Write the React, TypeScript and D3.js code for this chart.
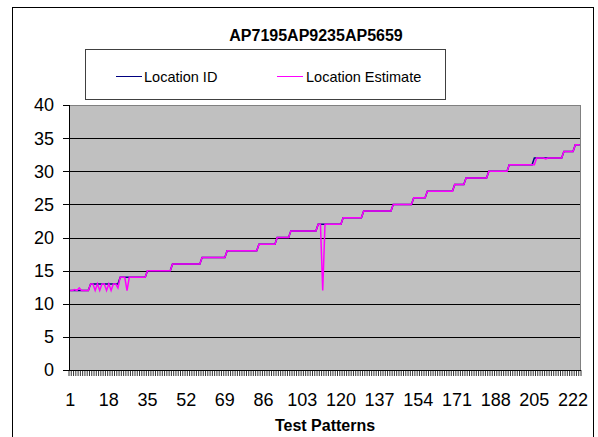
import React from "react";
import * as d3 from "d3";

const title = "AP7195AP9235AP5659";
const xTitle = "Test Patterns";
const seriesNames = ["Location ID", "Location Estimate"];
const seriesColors = ["#000080", "#FF00FF"];

const locationId = [
  12, 12, 12, 12, 12, 12, 12, 12, 12,
  13, 13, 13, 13, 13, 13, 13, 13, 13, 13, 13, 13, 13,
  14, 14, 14, 14, 14, 14, 14, 14, 14, 14, 14, 14,
  15, 15, 15, 15, 15, 15, 15, 15, 15, 15, 15,
  16, 16, 16, 16, 16, 16, 16, 16, 16, 16, 16, 16, 16,
  17, 17, 17, 17, 17, 17, 17, 17, 17, 17, 17,
  18, 18, 18, 18, 18, 18, 18, 18, 18, 18, 18, 18, 18, 18,
  19, 19, 19, 19, 19, 19, 19, 19,
  20, 20, 20, 20, 20, 20,
  21, 21, 21, 21, 21, 21, 21, 21, 21, 21, 21, 21,
  22, 22, 22, 22, 22, 22, 22, 22, 22, 22, 22,
  23, 23, 23, 23, 23, 23, 23, 23, 23,
  24, 24, 24, 24, 24, 24, 24, 24, 24, 24, 24, 24, 24,
  25, 25, 25, 25, 25, 25, 25, 25, 25,
  26, 26, 26, 26, 26, 26,
  27, 27, 27, 27, 27, 27, 27, 27, 27, 27, 27, 27,
  28, 28, 28, 28, 28,
  29, 29, 29, 29, 29, 29, 29, 29, 29, 29,
  30, 30, 30, 30, 30, 30, 30, 30, 30,
  31, 31, 31, 31, 31, 31, 31, 31, 31, 31, 31,
  32, 32, 32, 32, 32, 32, 32, 32, 32, 32, 32, 32, 32,
  33, 33, 33, 33, 33,
  34, 34, 34,
];

const locationEstimate = [
  12, 12, 12.15, 12, 12.4, 12, 12, 12, 12,
  13, 13, 12, 13, 12, 13, 13, 12, 13, 12, 13, 13, 12.4,
  14, 14, 14, 12, 14, 14, 14, 14, 14, 14, 14, 14,
  15, 15, 15, 15, 15, 15, 15, 15, 15, 15, 15,
  16, 16, 16, 16, 16, 16, 16, 16, 16, 16, 16, 16, 16,
  17, 17, 17, 17, 17, 17, 17, 17, 17, 17, 17,
  18, 18, 18, 18, 18, 18, 18, 18, 18, 18, 18, 18, 18, 18,
  19, 19, 19, 19, 19, 19, 19, 19,
  20, 20, 20, 20, 20, 20,
  21, 21, 21, 21, 21, 21, 21, 21, 21, 21, 21, 21,
  22, 22, 12, 22, 22, 22, 22, 22, 22, 22, 22,
  23, 23, 23, 23, 23, 23, 23, 23, 23,
  24, 24, 24, 24, 24, 24, 24, 24, 24, 24, 24, 24, 24,
  25, 25, 25, 25, 25, 25, 25, 25, 25,
  26, 26, 26, 26, 26, 26,
  27, 27, 27, 27, 27, 27, 27, 27, 27, 27, 27, 27,
  28, 28, 28, 28, 28,
  29, 29, 29, 29, 29, 29, 29, 29, 29, 29,
  30, 30, 30, 30, 30, 30, 30, 30, 30,
  31, 31, 31, 31, 31, 31, 31, 31, 31, 31, 31,
  31, 32, 32, 32, 32, 31.85, 32, 32, 32, 32, 32, 32, 32,
  33, 33, 33, 33, 33,
  34, 34, 34,
];

const xTickLabels = [1, 18, 35, 52, 69, 86, 103, 120, 137, 154, 171, 188, 205, 222];
const yTicks = [0, 5, 10, 15, 20, 25, 30, 35, 40];

const W = 598;
const H = 437;
const FONT = "'Liberation Sans', Arial, sans-serif";

export default function App() {
  const categories = locationId.map((_, i) => i + 1);
  const x = d3.scaleBand<number>().domain(categories).range([69, 581]).paddingInner(0).paddingOuter(0);
  const y = d3.scaleLinear().domain([0, 40]).range([370, 105]);
  const cx = (c: number) => (x(c) as number) + x.bandwidth() / 2;

  const line = d3
    .line<number>()
    .x((_, i) => cx(categories[i]))
    .y((d) => y(d));

  const [x0, x1] = x.range();
  const boundaries = categories.map((c) => x(c) as number).concat([x1]);

  return (
    <svg
      width={W}
      height={H}
      style={{ position: "absolute", left: 0, top: 0, background: "#fff" }}
      fontFamily={FONT}
    >
      <rect x={0} y={0} width={W} height={H} fill="#fff" />
      <rect x={12.5} y={7.5} width={581} height={440} fill="none" stroke="#000" strokeWidth={1} />

      <text x={316} y={40.5} textAnchor="middle" fontSize={16} fontWeight="bold" fill="#000">
        {title}
      </text>

      {/* legend */}
      <rect x={85.5} y={49.5} width={360} height={50} fill="#fff" stroke="#404040" strokeWidth={1} />
      <line x1={116} x2={142} y1={76.5} y2={76.5} stroke={seriesColors[0]} strokeWidth={1} />
      <text x={144} y={82} fontSize={14.5} fill="#000">{seriesNames[0]}</text>
      <line x1={277} x2={303} y1={76.5} y2={76.5} stroke={seriesColors[1]} strokeWidth={1} />
      <text x={306} y={82} fontSize={14.5} fill="#000">{seriesNames[1]}</text>

      {/* plot area */}
      <rect x={x0} y={y(40)} width={x1 - x0} height={y(0) - y(40)} fill="#C0C0C0" />
      {yTicks
        .filter((t) => t > 0 && t < 40)
        .map((t) => (
          <line key={t} x1={x0} x2={x1} y1={Math.round(y(t)) + 0.5} y2={Math.round(y(t)) + 0.5} stroke="#000" strokeWidth={1} />
        ))}
      <line x1={x0} x2={x1} y1={Math.round(y(40)) + 0.5} y2={Math.round(y(40)) + 0.5} stroke="#808080" strokeWidth={1} />
      <line x1={x1 - 0.5} x2={x1 - 0.5} y1={y(40)} y2={y(0)} stroke="#808080" strokeWidth={1} />

      {/* series */}
      <path d={line(locationId) || ""} fill="none" stroke={seriesColors[0]} strokeWidth={1.5} />
      <path d={line(locationEstimate) || ""} fill="none" stroke={seriesColors[1]} strokeWidth={1.5} />

      {/* y axis */}
      <line x1={x0 + 0.5} x2={x0 + 0.5} y1={y(40)} y2={y(0)} stroke="#000" strokeWidth={1} />
      {yTicks.map((t) => (
        <g key={t}>
          <line x1={63} x2={x0} y1={Math.round(y(t)) + 0.5} y2={Math.round(y(t)) + 0.5} stroke="#000" strokeWidth={1} />
          <text x={54} y={y(t)} dy="0.36em" textAnchor="end" fontSize={18} fill="#000">
            {t}
          </text>
        </g>
      ))}

      {/* x axis */}
      <line x1={x0} x2={x1} y1={Math.round(y(0)) + 0.5} y2={Math.round(y(0)) + 0.5} stroke="#000" strokeWidth={1} />
      {boundaries.map((b, i) => (
        <line key={i} x1={b} x2={b} y1={y(0)} y2={y(0) + 6} stroke="#000" strokeWidth={0.8} />
      ))}
      {xTickLabels.map((c) => (
        <text key={c} x={cx(c)} y={406} textAnchor="middle" fontSize={18} fill="#000">
          {c}
        </text>
      ))}
      <text x={(x0 + x1) / 2} y={431} textAnchor="middle" fontSize={16} fontWeight="bold" fill="#000">
        {xTitle}
      </text>
    </svg>
  );
}
